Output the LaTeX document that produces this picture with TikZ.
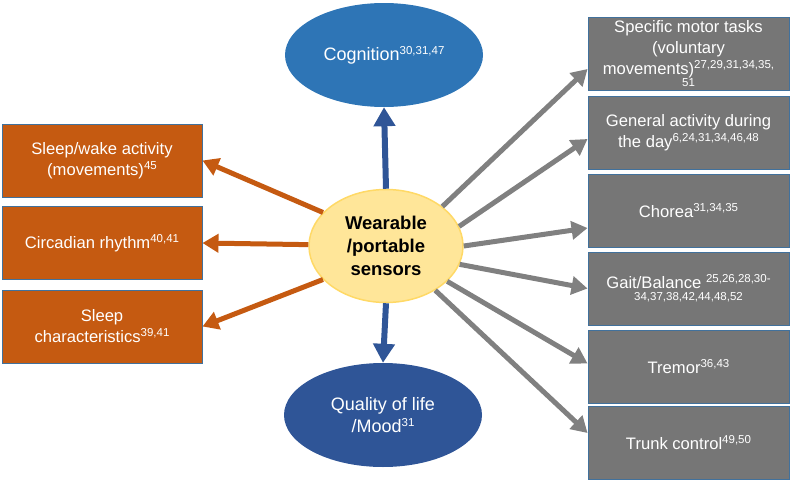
\documentclass[tikz,border=0pt]{standalone}
\usepackage{fontspec}
\setmainfont{Liberation Sans}
\usetikzlibrary{shapes.geometric,arrows.meta}
\definecolor{cogblue}{HTML}{2E75B6}
\definecolor{qolblue}{HTML}{2F5597}
\definecolor{centerfill}{HTML}{FFE699}
\definecolor{centerdraw}{HTML}{FFD966}
\definecolor{orangebox}{HTML}{C55A11}
\definecolor{graybox}{HTML}{767676}
\definecolor{grayarrow}{HTML}{808080}
\definecolor{bordblue}{HTML}{41719C}
\newcommand\rf[1]{\raisebox{6pt}{\fontsize{11.5}{11.5}\selectfont #1}}
\newcommand\rfline[1]{{\fontsize{11.5}{11.5}\selectfont #1}}
\begin{document}
\begin{tikzpicture}[x=1pt,y=-1pt,
  txt/.style={font=\fontsize{16.6}{21}\selectfont, align=center, text=white, inner sep=1pt},
  gbox/.style={txt, rectangle, fill=graybox, draw=bordblue, line width=0.9pt, minimum width=201pt, minimum height=73pt},
  obox/.style={txt, rectangle, fill=orangebox, draw=bordblue, line width=0.9pt, minimum width=200pt, minimum height=73pt},
  oval/.style={txt, font=\fontsize{18}{22}\selectfont, ellipse, inner sep=0pt, minimum width=198pt, minimum height=104pt},
  garr/.style={draw=grayarrow, line width=5pt, -{Triangle[length=16pt,width=18pt]}},
  oarr/.style={draw=orangebox, line width=5pt, -{Triangle[length=16pt,width=18pt]}},
  barr/.style={draw=qolblue, line width=6pt, -{Triangle[length=19pt,width=21pt]}}
]
\useasboundingbox (0,0) rectangle (790,482);

% center
\node[ellipse, fill=centerfill, draw=centerdraw, line width=1.5pt, minimum width=154pt, minimum height=113pt, inner sep=0pt, align=center, font=\fontsize{18.5}{23}\selectfont\bfseries] (c) at (386,246) {Wearable\\/portable\\sensors};

% ellipses
\node[oval, fill=cogblue] (cog) at (384,55) {Cognition\rf{30,31,47}};
\node[oval, fill=qolblue] (qol) at (383,415) {Quality of life\\/Mood\rf{31}};

% left boxes
\node[obox] (l1) at (102,160.5) {Sleep/wake activity\\(movements)\rf{45}};
\node[obox] (l2) at (102,243) {Circadian rhythm\rf{40,41}};
\node[obox] (l3) at (102,326.5) {Sleep\\characteristics\rf{39,41}};

% right boxes
\node[gbox] (r1) at (688.5,54) {Specific motor tasks\\(voluntary\\movements)\rf{27,29,31,34,35,}\\[-9pt]\rfline{51}};
\node[gbox] (r2) at (688.5,133) {General activity during\\the day\rf{6,24,31,34,46,48}};
\node[gbox] (r3) at (688.5,211) {Chorea\rf{31,34,35}};
\node[gbox] (r4) at (688.5,288.5) {Gait/Balance \rf{25,26,28,30-}\\[-9pt]\rfline{34,37,38,42,44,48,52}};
\node[gbox] (r5) at (688.5,366.5) {Tremor\rf{36,43}};
\node[gbox] (r6) at (688.5,443) {Trunk control\rf{49,50}};

% blue arrows
\draw[barr] (c.north) -- (cog.south);
\draw[barr] (c.south) -- (qol.north);

% orange arrows
\draw[oarr] (c.152) -- (l1.east);
\draw[oarr] (c.179) -- (l2.east);
\draw[oarr] (c.208) -- (l3.east);

% gray arrows
\draw[garr] (c.35) -- ([yshift=-15pt]r1.west);
\draw[garr] (c.15) -- ([yshift=-6pt]r2.west);
\draw[garr] (c.0) -- ([yshift=-17pt]r3.west);
\draw[garr] (c.-14) -- (r4.west);
\draw[garr] (c.-30) -- ([yshift=3pt]r5.west);
\draw[garr] (c.-42) -- ([yshift=10pt]r6.west);
\end{tikzpicture}
\end{document}
